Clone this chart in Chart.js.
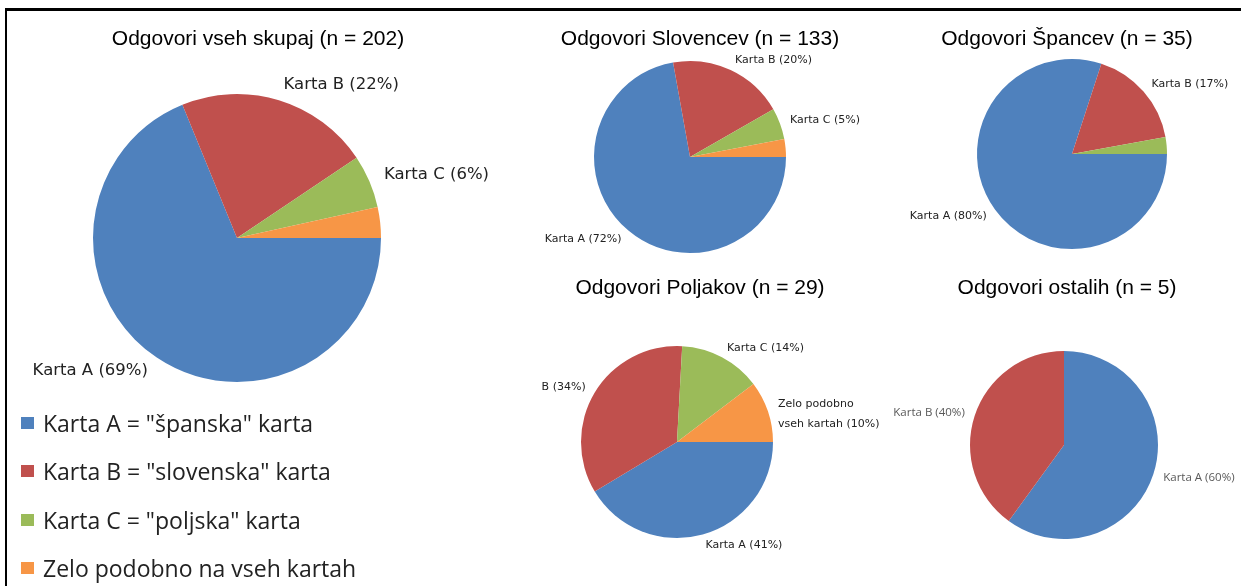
<!DOCTYPE html>
<html>
<head>
<meta charset="utf-8">
<script src="https://cdn.jsdelivr.net/npm/chart.js@4.4.0/dist/chart.umd.min.js"></script>
<style>
  body { margin: 0; background: #fff; }
  #page { position: relative; width: 1241px; height: 586px; overflow: hidden; background: #fff; }
  #frame { position: absolute; left: 5px; top: 8px; width: 1400px; height: 800px;
           border-top: 3px solid #000; border-left: 2px solid #000; }
  #page canvas { position: absolute; left: 0; top: 0; }
  #legend { position: absolute; left: 21px; top: 399px; font-family: "Open Sans", Lato, sans-serif;
            font-size: 23px; color: #222; }
  #legend .row { height: 48.3px; display: flex; align-items: center; white-space: nowrap; }
  #legend .box { width: 13px; height: 12px; margin-right: 9px; flex: none; }
</style>
</head>
<body>
<div id="page">
  <div id="frame"></div>
  <canvas id="pie-all" width="1241" height="586"></canvas>
  <canvas id="pie-si" width="1241" height="586"></canvas>
  <canvas id="pie-es" width="1241" height="586"></canvas>
  <canvas id="pie-pl" width="1241" height="586"></canvas>
  <canvas id="pie-other" width="1241" height="586"></canvas>
  <div id="legend"></div>
</div>
<script>
// answer categories and their colours
const categories = ["Karta A", "Karta B", "Karta C", "Zelo podobno"];
const legendLabels = ['Karta A = "španska" karta', 'Karta B = "slovenska" karta',
                      'Karta C = "poljska" karta', 'Zelo podobno na vseh kartah'];
const colors = ["#4f81bd", "#c0504d", "#9bbb59", "#f79646"];

// number of answers per category (A, B, C, all similar)
const allCounts = [139, 44, 12, 7];
const slovenianCounts = [96, 26, 7, 4];
const spanishCounts = [28, 6, 1, 0];
const polishCounts = [12, 10, 4, 3];
const otherCounts = [3, 2, 0, 0];

// slice label text, null = slice has no label
const allNames = ["Karta A", "Karta B", "Karta C", null];
const slovenianNames = ["Karta A", "Karta B", "Karta C", null];
const spanishNames = ["Karta A", "Karta B", null, null];
const polishNames = ["Karta A", "B", "Karta C", ["Zelo podobno", "vseh kartah"]];
const otherNames = ["Karta A", "Karta B", null, null];

const verdana = '"DejaVu Sans", Verdana, sans-serif';

const pies = [
    { id: "pie-all", heading: "Odgovori vseh skupaj", counts: allCounts, names: allNames,
      cx: 237, cy: 238, r: 144, titleX: 258, titleY: 45, rotation: 90,
      labelFont: "16.5px " + verdana, labelColor: "#222" },
    { id: "pie-si", heading: "Odgovori Slovencev", counts: slovenianCounts, names: slovenianNames,
      cx: 690, cy: 157, r: 96, titleX: 700, titleY: 45, rotation: 90,
      labelFont: "11px " + verdana, labelColor: "#222" },
    { id: "pie-es", heading: "Odgovori Špancev", counts: spanishCounts, names: spanishNames,
      cx: 1072, cy: 154, r: 95, titleX: 1067, titleY: 45, rotation: 90,
      labelFont: "11px " + verdana, labelColor: "#222" },
    { id: "pie-pl", heading: "Odgovori Poljakov", counts: polishCounts, names: polishNames,
      cx: 677, cy: 442, r: 96, titleX: 700, titleY: 294, rotation: 90,
      labelFont: "11px " + verdana, labelColor: "#222" },
    { id: "pie-other", heading: "Odgovori ostalih", counts: otherCounts, names: otherNames,
      cx: 1064, cy: 445, r: 94, titleX: 1067, titleY: 294, rotation: 0,
      labelFont: '11.5px "Open Sans", sans-serif', labelColor: "#595959" }
];

// draws the title above each pie and the "name (xx%)" labels just outside the slices
const pieText = {
    id: "pieText",
    afterDatasetsDraw(chart, args, opts) {
        const ctx = chart.ctx;
        const counts = chart.data.datasets[0].data;
        const total = counts.reduce((a, b) => a + b, 0);

        ctx.save();
        ctx.fillStyle = "#000";
        ctx.font = '21px "Liberation Sans", Arial, sans-serif';
        ctx.textAlign = "center";
        ctx.textBaseline = "alphabetic";
        ctx.fillText(opts.heading + " (n = " + total + ")", opts.titleX, opts.titleY);

        ctx.font = opts.labelFont;
        ctx.fillStyle = opts.labelColor;
        ctx.textBaseline = "middle";
        chart.getDatasetMeta(0).data.forEach((arc, i) => {
            const name = opts.names[i];
            if (!name || !counts[i]) return;
            const p = arc.getProps(["x", "y", "startAngle", "endAngle", "outerRadius"]);
            const mid = (p.startAngle + p.endAngle) / 2;
            const dist = p.outerRadius * 1.11;
            const x = p.x + Math.cos(mid) * dist;
            const y = p.y + Math.sin(mid) * dist;
            const pct = Math.round(counts[i] / total * 100);
            const lines = Array.isArray(name) ? name.slice() : [name];
            lines[lines.length - 1] += " (" + pct + "%)";
            ctx.textAlign = Math.cos(mid) >= 0 ? "left" : "right";
            // wrapped labels sit a little lower than centred
            const lineH = 20, n = lines.length;
            lines.forEach((t, k) => {
                ctx.fillText(t, x, y + (k - (n - 1) / 2) * lineH + (n - 1) * 6);
            });
        });
        ctx.restore();
    }
};

const W = 1241, H = 586;

pies.forEach(p => {
    new Chart(document.getElementById(p.id), {
        type: "pie",
        data: {
            labels: categories,
            datasets: [{
                data: p.counts,
                backgroundColor: colors,
                borderWidth: 0
            }]
        },
        options: {
            responsive: false,
            animation: false,
            devicePixelRatio: 1,
            events: [],
            rotation: p.rotation,
            layout: {
                // chart area becomes the square around the pie
                padding: { left: p.cx - p.r, top: p.cy - p.r, right: W - p.cx - p.r, bottom: H - p.cy - p.r }
            },
            plugins: {
                legend: { display: false },
                tooltip: { enabled: false },
                pieText: p
            }
        },
        plugins: [pieText]
    });
});

// legend under the big pie
const legend = document.getElementById("legend");
legendLabels.forEach((text, i) => {
    const row = document.createElement("div");
    row.className = "row";
    const box = document.createElement("span");
    box.className = "box";
    box.style.background = colors[i];
    row.appendChild(box);
    row.appendChild(document.createTextNode(text));
    legend.appendChild(row);
});
</script>
</body>
</html>
